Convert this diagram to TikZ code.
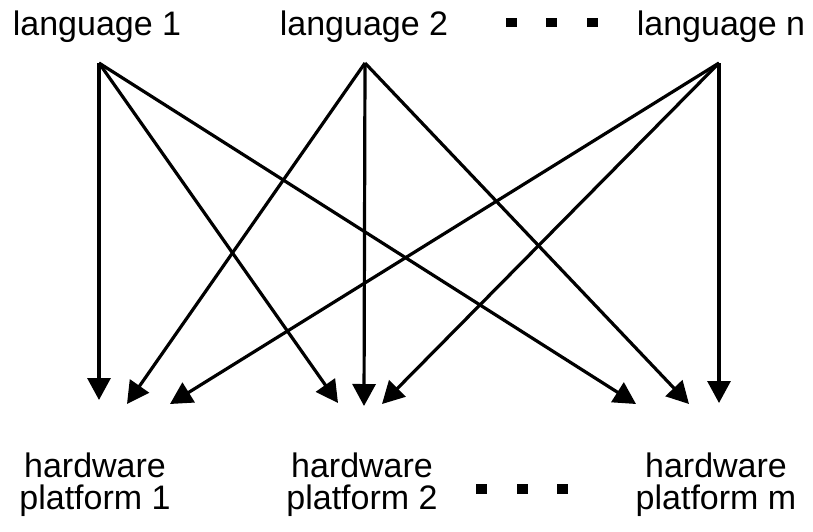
\documentclass[tikz,border=0pt]{standalone}
\usepackage{fontspec}
\setmainfont{Liberation Sans}
\usetikzlibrary{arrows.meta}
\begin{document}
\begin{tikzpicture}[x=1pt,y=-1pt,
  lbl/.style={inner sep=0pt,anchor=base,font=\fontsize{34}{32.5}\selectfont,align=center},
  link/.style={line width=3.2pt,-{Triangle[length=22pt,width=23pt]}},
  dot/.style={fill=black,draw=none}]
\useasboundingbox (0,0) rectangle (813,531);

% source labels
\node[lbl] (l1) at (97,35) {language 1};
\node[lbl] (l2) at (364,35) {language 2};
\node[lbl] (ln) at (721,35) {language n};

% target labels (base anchor sits on the last line)
\node[lbl] (h1) at (95,509.5) {hardware\\platform 1};
\node[lbl] (h2) at (362,509.5) {hardware\\platform 2};
\node[lbl] (hm) at (716,509.5) {hardware\\platform m};

% ellipsis squares
\foreach \cx in {511,551,592}
  \fill[dot] (\cx-5.5,17.5) rectangle (\cx+5.5,26.5);
\foreach \cx in {481,522,562}
  \fill[dot] (\cx-5.5,484) rectangle (\cx+5.5,494);

% arrow origins
\coordinate (s1) at (99,63);
\coordinate (s2) at (365,63);
\coordinate (sn) at (719,63);

% arrow tips
\coordinate (a11) at (99,400);
\coordinate (a12) at (338,403);
\coordinate (a1m) at (636,404);
\coordinate (a21) at (127,404);
\coordinate (a22) at (364,406);
\coordinate (a2m) at (689,404);
\coordinate (an1) at (170,404);
\coordinate (an2) at (382,404);
\coordinate (anm) at (719,403);

\draw[link] (s1) -- (a11);
\draw[link] (s1) -- (a12);
\draw[link] (s1) -- (a1m);
\draw[link] (s2) -- (a21);
\draw[link] (s2) -- (a22);
\draw[link] (s2) -- (a2m);
\draw[link] (sn) -- (an1);
\draw[link] (sn) -- (an2);
\draw[link] (sn) -- (anm);
\end{tikzpicture}
\end{document}
